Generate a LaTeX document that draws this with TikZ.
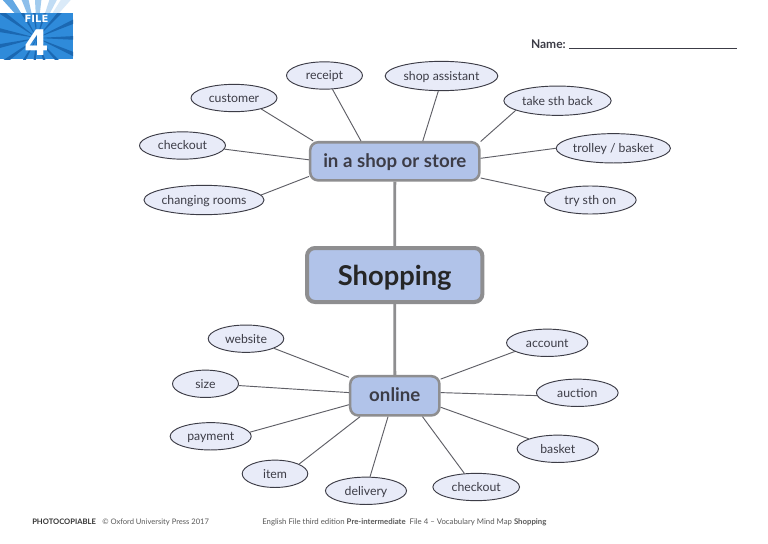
\documentclass[tikz,border=0pt]{standalone}
\usepackage{fontspec}
\setmainfont{Lato}
\newfontfamily\badgefont{DejaVu Sans}
\usepackage{xcolor}
\usetikzlibrary{shapes.geometric, positioning, calc}
\definecolor{boxblue}{HTML}{B1C3E9}
\definecolor{leafblue}{HTML}{E8EBF8}
\definecolor{boxgrey}{HTML}{8E8E90}
\definecolor{inkgrey}{HTML}{3C3C46}
\definecolor{spokegrey}{HTML}{5F5F66}
\definecolor{filenavy}{HTML}{1B68B2}
\definecolor{fileblue}{HTML}{2F8BDA}
\tikzstyle{leaf} = [draw=inkgrey, ellipse, fill=leafblue, line width=0.7pt, inner sep=0pt, minimum height=20.5pt, text height=7.6pt, text depth=1pt, text=inkgrey, font=\fontsize{9.2}{11}\selectfont]
\tikzstyle{hub} = [draw=boxgrey, rectangle, fill=boxblue, rounded corners=6pt, line width=1.9pt, inner sep=0pt, text height=11pt, text depth=2pt, text=inkgrey, font=\bfseries\fontsize{14}{16}\selectfont]
\tikzstyle{spoke} = [draw=spokegrey, line width=0.7pt]
\tikzstyle{trunk} = [draw=boxgrey, line width=2.2pt]
\tikzstyle{footer} = [anchor=west, inner sep=0pt, text=black!65, font=\fontsize{5.85}{7}\selectfont]

\begin{document}
\begin{tikzpicture}[x=0.75pt, y=-0.75pt]
    \useasboundingbox (0,0) rectangle (768,543);
    \fill[white] (0,0) rectangle (768,543);

    % file badge
    \begin{scope}
        \clip (0,0) rectangle (73,13);
        \foreach \a/\t in {-127/75,-107/55,-88/45,-67/30,-53/18}
            \fill[fileblue!\t!white] (37,38) -- ++(\a-5:60) -- ++(\a+90:10) -- cycle;
    \end{scope}
    \begin{scope}
        \clip (0,13) rectangle (73,59);
        \fill[fileblue] (0,13) rectangle (73,59);
        \foreach \a in {0,24,...,336}
            \fill[filenavy] (37,38) -- ++(\a-3:70) -- ++(\a+90:7) -- cycle;
    \end{scope}
    \node (filetag) [anchor=center, inner sep=0pt, text=white, font=\badgefont\bfseries\fontsize{7.5}{9}\selectfont] at (36.5,19) {FILE};
    \node (filenum) [anchor=center, inner sep=0pt, text=white, font=\badgefont\bfseries\fontsize{26.5}{28}\selectfont] at (36.5,43) {4};

    % name line
    \node (name) [anchor=east, inner sep=0pt, text=inkgrey, font=\bfseries\fontsize{9}{10}\selectfont] at (566,44) {Name:};
    \coordinate (nameend) at (737,48);
    \draw[inkgrey, line width=0.7pt] (569,48) -- (nameend);

    % hubs
    \node (shopping) [hub, minimum width=131.5pt, minimum height=40.5pt, line width=3pt, text height=17pt, text depth=2pt, text=black!85, font=\bfseries\fontsize{20.5}{22}\selectfont] at (394.7,275) {Shopping};
    \node (store) [hub, minimum width=126.9pt, minimum height=28.6pt] at (394.8,161.3) {in a shop or store};
    \node (online) [hub, minimum width=66.9pt, minimum height=29.4pt] at (394.8,395.8) {online};

    % leaves, top
    \node (receipt) [leaf, minimum width=57pt] at (324.5,75.5) {receipt};
    \node (customer) [leaf, minimum width=64.5pt] at (234,98) {customer};
    \node (assistant) [leaf, minimum width=84.5pt, minimum height=22pt] at (441.5,76) {shop assistant};
    \node (takeback) [leaf, minimum width=80.5pt, minimum height=22pt] at (557.5,100.7) {take sth back};
    \node (checkoutA) [leaf, minimum width=64.5pt] at (182.5,145.5) {checkout};
    \node (trolley) [leaf, minimum width=84.2pt, minimum height=22pt] at (613.3,148.3) {trolley / basket};
    \node (changing) [leaf, minimum width=88pt, minimum height=22pt] at (204,200) {changing rooms};
    \node (tryon) [leaf, minimum width=68.8pt, minimum height=21pt] at (590.3,200) {try sth on};

    % leaves, bottom
    \node (website) [leaf, minimum width=56.7pt] at (246,338.7) {website};
    \node (size) [leaf, minimum width=49.5pt] at (205.5,383.8) {size};
    \node (payment) [leaf, minimum width=60.8pt] at (210.7,436.3) {payment};
    \node (item) [leaf, minimum width=49.2pt] at (275,473.8) {item};
    \node (delivery) [leaf, minimum width=60.8pt] at (366,490.8) {delivery};
    \node (checkoutB) [leaf, minimum width=65pt] at (476.2,487) {checkout};
    \node (basket) [leaf, minimum width=61pt] at (557.8,448.8) {basket};
    \node (auction) [leaf, minimum width=61.3pt] at (577.3,392.8) {auction};
    \node (account) [leaf, minimum width=61pt] at (547.2,342.8) {account};

    \draw [trunk] (store) -- (shopping);
    \draw [trunk] (shopping) -- (online);

    \foreach \leaf/\from/\to in {receipt/-60.5/149.2, customer/-22.9/166.4, assistant/258/36.7, takeback/193.6/13.7, checkoutA/-5/179.3, trolley/180.7/2.9, changing/5.6/190.4, tryon/170.5/-11.2}
        \draw [spoke] (\leaf.\from) -- (store.\to);
    \foreach \leaf/\from/\to in {website/-19.6/158.7, size/-3.8/176.1, payment/6.5/191.4, item/22.8/211, delivery/74/252.7, checkoutB/131.7/-37.2, basket/161/-14.1, auction/184/4.7, account/195.7/20.7}
        \draw [spoke] (\leaf.\from) -- (online.\to);

    % footer
    \node (copy) [footer, text=black!80, font=\bfseries\fontsize{5.7}{7}\selectfont] at (32,522) {PHOTOCOPIABLE};
    \node (press) [footer, font=\fontsize{5.7}{7}\selectfont] at (102,522) {© Oxford University Press 2017};
    \node (edition) [footer] at (262,522) {English File third edition \textbf{Pre-intermediate}\enspace File 4 – Vocabulary Mind Map \textbf{Shopping}};
\end{tikzpicture}
\end{document}
